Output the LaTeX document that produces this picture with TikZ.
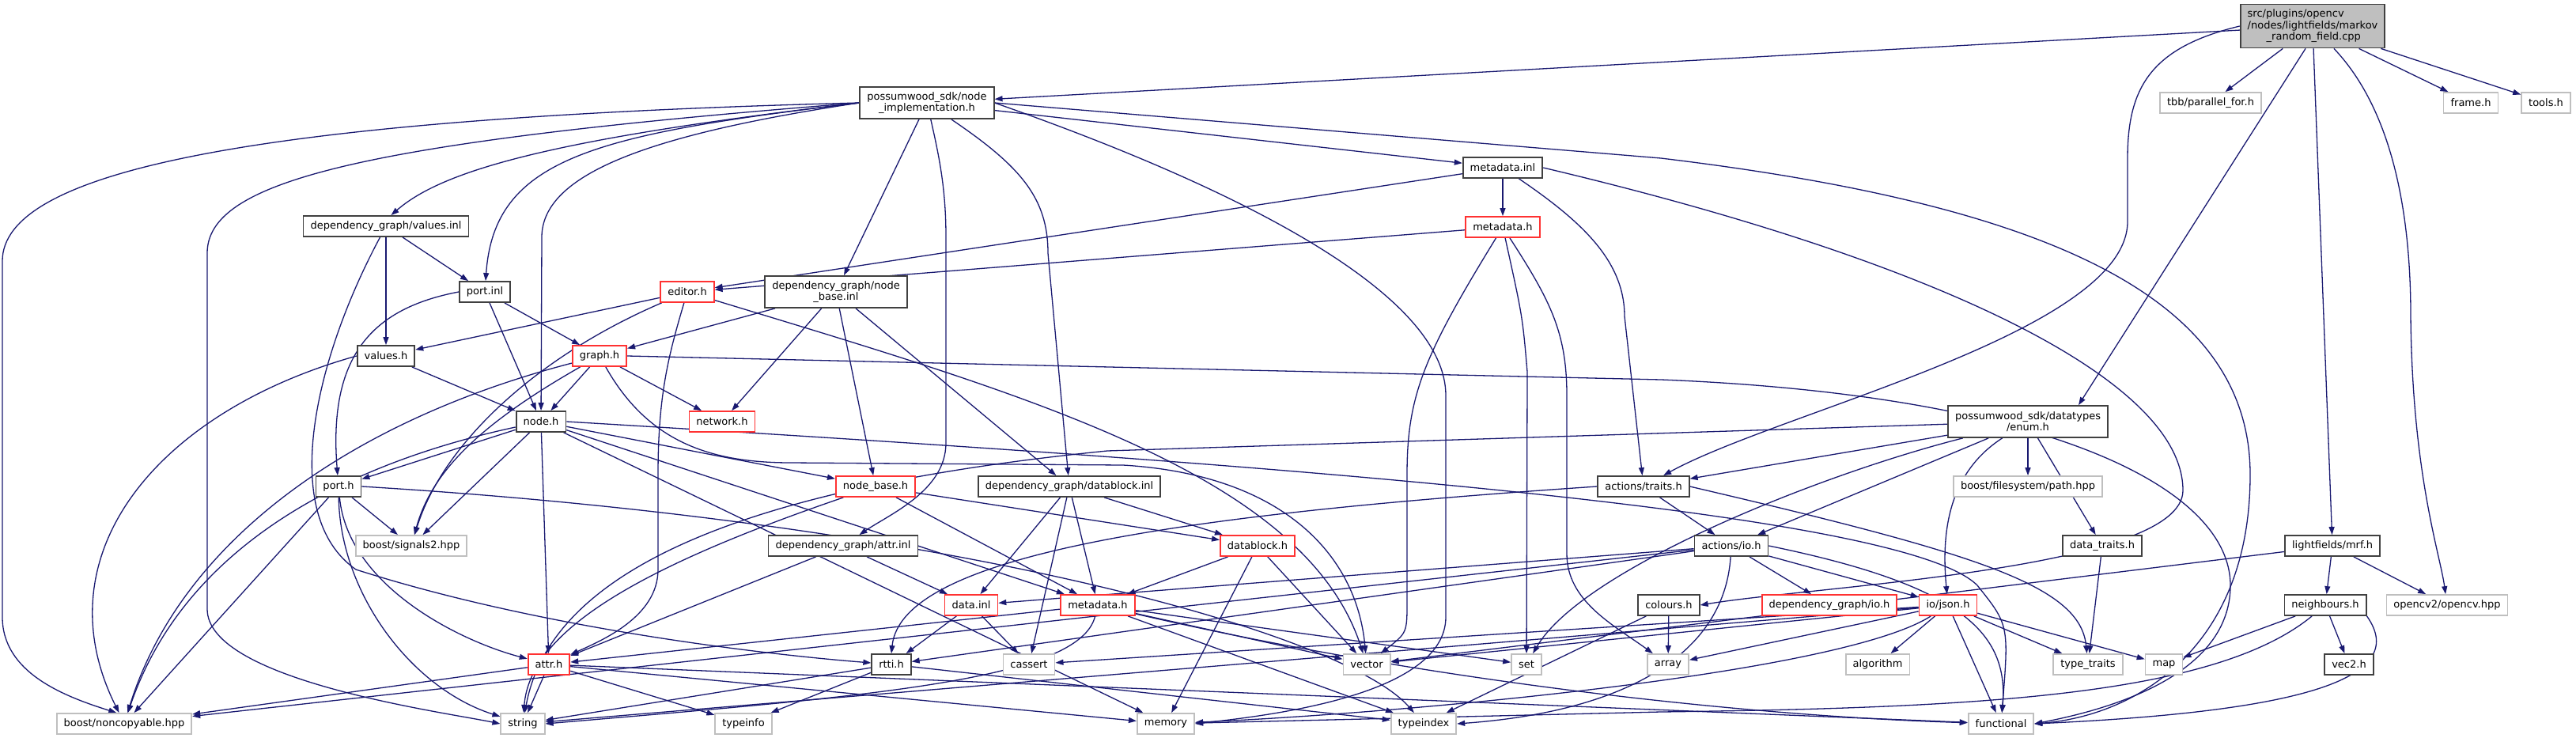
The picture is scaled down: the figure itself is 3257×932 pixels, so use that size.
\documentclass[tikz,border=0pt]{standalone}
\usepackage{fontspec}
\setmainfont{DejaVu Sans}
\usepackage{xcolor}
\usetikzlibrary{arrows.meta,backgrounds}
\definecolor{edgeblue}{RGB}{25,25,112}
\definecolor{boxedge}{RGB}{64,64,64}
\definecolor{extgray}{RGB}{191,191,191}
\definecolor{truncred}{RGB}{255,50,50}
\definecolor{rootgray}{RGB}{191,191,191}

\tikzset{
  box/.style={draw=boxedge, line width=1.8pt, fill=white, inner xsep=9pt, inner ysep=4pt,
    minimum height=26pt, align=center, font=\fontsize{13}{14.5}\selectfont},
  redbox/.style={box, draw=truncred},
  graybox/.style={box, draw=extgray},
  rootbox/.style={box, fill=rootgray, align=left, minimum height=55pt},
  dep/.style={draw=edgeblue, line width=1.3pt, -{Triangle[length=10pt,width=7pt]}},
}

\begin{document}
\begin{tikzpicture}[x=1pt,y=-1pt]
  \useasboundingbox (0,0) rectangle (3257,932);
  % Top rows
  \node[rootbox] (root) at (2924,33) {src/plugins/opencv\\/nodes/lightfields/markov\\\hspace*{24pt}\_random\_field.cpp};
  \node[box, minimum height=40pt] (nimpl) at (1172,130) {possumwood\_sdk/node\\\_implementation.h};
  \node[graybox] (tbb) at (2795,130) {tbb/parallel\_for.h};
  \node[graybox] (frame) at (3124,130) {frame.h};
  \node[graybox] (tools) at (3219,130) {tools.h};
  \node[box] (mdinl) at (1900,212) {metadata.inl};
  \node[box] (valinl) at (488,286) {dependency\_graph/values.inl};
  \node[redbox] (mdh) at (1900,287) {metadata.h};
  \node[box] (portinl) at (613,369) {port.inl};
  \node[redbox] (editor) at (869,369) {editor.h};
  \node[box, minimum height=40pt] (nbinl) at (1057,369) {dependency\_graph/node\\\_base.inl};
  \node[box] (valh) at (488,450) {values.h};
  \node[redbox] (graph) at (758,450) {graph.h};
  % Middle rows
  \node[box] (nodeh) at (684,533) {node.h};
  \node[redbox] (network) at (913,533) {network.h};
  \node[box, minimum height=40pt] (enumh) at (2564,533) {possumwood\_sdk/datatypes\\/enum.h};
  \node[box] (porth) at (428,615) {port.h};
  \node[redbox] (nbh) at (1107,615) {node\_base.h};
  \node[box] (dbinl) at (1352,615) {dependency\_graph/datablock.inl};
  \node[box] (traits) at (2078,615) {actions/traits.h};
  \node[graybox] (fspath) at (2564,615) {boost/filesystem/path.hpp};
  \node[graybox] (sig) at (520,690) {boost/signals2.hpp};
  \node[box] (attrinl) at (1066,690) {dependency\_graph/attr.inl};
  \node[redbox] (dbh) at (1590,690) {datablock.h};
  \node[box] (actio) at (2189,690) {actions/io.h};
  \node[box] (dtraits) at (2658,690) {data\_traits.h};
  \node[box] (mrf) at (2949,690) {lightfields/mrf.h};
  \node[redbox] (datainl) at (1228,765) {data.inl};
  \node[redbox] (dmdh) at (1388,765) {metadata.h};
  \node[box] (colours) at (2110,765) {colours.h};
  \node[redbox] (dgio) at (2313,765) {dependency\_graph/io.h};
  \node[redbox] (json) at (2463,765) {io/json.h};
  \node[box] (neigh) at (2940,765) {neighbours.h};
  \node[graybox] (cv) at (3094,765) {opencv2/opencv.hpp};
  % Bottom rows
  \node[redbox] (attrh) at (694,840) {attr.h};
  \node[box] (rtti) at (1127,840) {rtti.h};
  \node[graybox] (cassert) at (1301,840) {cassert};
  \node[graybox] (vector) at (1728,840) {vector};
  \node[graybox] (stdset) at (1930,840) {set};
  \node[graybox] (array) at (2109,840) {array};
  \node[graybox] (algo) at (2374,840) {algorithm};
  \node[graybox] (ttraits) at (2640,840) {type\_traits};
  \node[graybox] (stdmap) at (2736,840) {map};
  \node[box] (vec2) at (2970,840) {vec2.h};
  \node[graybox] (noncopy) at (157,915) {boost/noncopyable.hpp};
  \node[graybox] (stdstring) at (661,915) {string};
  \node[graybox] (typeinfo) at (940,915) {typeinfo};
  \node[graybox] (memory) at (1474,915) {memory};
  \node[graybox] (typeindex) at (1800,915) {typeindex};
  \node[graybox] (functional) at (2530,915) {functional};

  \begin{scope}[on background layer]
  % Straight includes
  \foreach \src/\dst in {root/nimpl, root/tbb, root/mrf, root/frame, root/tools,
      nimpl/nbinl, nimpl/mdinl, valinl/portinl, valinl/valh, portinl/graph, portinl/nodeh,
      mdinl/editor, mdinl/mdh, mdh/editor, editor/valh,
      nbinl/graph, nbinl/network, nbinl/nbh, nbinl/dbinl,
      valh/nodeh, graph/nodeh, graph/network,
      nodeh/porth, nodeh/sig, nodeh/attrh, nodeh/nbh, nodeh/dmdh, nodeh/memory,
      porth/sig, porth/noncopy, nbh/dbh, nbh/dmdh,
      dbinl/datainl, dbinl/cassert, dbinl/dmdh, dbinl/dbh, attrinl/attrh, attrinl/datainl,
      dbh/dmdh, dbh/memory, dbh/vector, datainl/rtti, datainl/cassert,
      dmdh/attrh, dmdh/vector, dmdh/stdset, dmdh/typeindex,
      attrh/noncopy, attrh/stdstring, attrh/typeinfo, attrh/memory, attrh/functional,
      rtti/stdstring, rtti/typeinfo, rtti/typeindex,
      enumh/traits, enumh/actio, enumh/fspath, enumh/dtraits,
      traits/actio, actio/dgio, actio/json, actio/datainl, actio/noncopy, actio/rtti,
      dtraits/ttraits, mrf/neigh, mrf/cv, mrf/vector, neigh/stdmap, neigh/vec2,
      colours/array, colours/typeindex,
      json/vector, json/cassert, json/array, json/algo, json/ttraits, json/stdmap,
      json/functional, json/stdstring}
    \draw[dep] (\src) -- (\dst);
  \draw[dep] ([xshift=-9pt]root.south) -- ([xshift=64pt]enumh.north);

  % Long curved includes
  \draw[dep] (nimpl.west) .. controls (300,150) and (3,220) .. (3,330) -- (3,780)
    .. controls (3,850) and (80,880) .. (noncopy.125);
  \draw[dep] (nimpl.west) .. controls (450,180) and (262,230) .. (262,320) -- (262,770)
    .. controls (262,860) and (560,900) .. (stdstring.west);
  \draw[dep] (nimpl.west) .. controls (700,175) and (560,215) .. (valinl.65);
  \draw[dep] (nimpl.west) .. controls (750,170) and (625,200) .. (portinl);
  \draw[dep] (nimpl.west) .. controls (820,170) and (685,220) .. (685,300) -- (nodeh);
  \draw[dep] (nimpl) .. controls (1188,200) and (1196,240) .. (1196,300) -- (1196,560)
    .. controls (1196,620) and (1125,650) .. (attrinl);
  \draw[dep] (nimpl) .. controls (1290,210) and (1325,250) .. (1325,320) -- (dbinl);
  \draw[dep] (nimpl.east) .. controls (1600,250) and (1828,380) .. (1828,500) -- (1828,780)
    .. controls (1828,880) and (1600,905) .. (memory.east);
  \draw[dep] (nimpl.east) -- (2100,200) .. controls (2600,260) and (2845,380) .. (2845,600)
    .. controls (2845,820) and (2700,905) .. (functional.east);
  \draw[dep] (root.west) .. controls (2720,60) and (2690,110) .. (2690,200) -- (2690,280)
    .. controls (2690,420) and (2250,520) .. (traits);
  \draw[dep] (root) .. controls (3035,150) and (3048,300) .. (3048,400)
    .. controls (3050,600) and (3085,700) .. (cv);
  \draw[dep] (mdinl) .. controls (2000,280) and (2054,330) .. (2054,400) -- (traits);
  \draw[dep] (mdinl.east) .. controls (2450,330) and (2760,480) .. (2760,620)
    .. controls (2760,720) and (2300,740) .. (colours.east);
  \draw[dep] (mdh) .. controls (1800,450) and (1779,500) .. (1779,600) -- (1779,760)
    .. controls (1779,800) .. (vector);
  \draw[dep] (mdh) .. controls (1925,400) .. (1931,470) -- (stdset);
  \draw[dep] (mdh) .. controls (1960,380) and (1981,420) .. (1981,500) -- (1981,700)
    .. controls (1981,760) and (2040,790) .. (array);
  \draw[dep] (valinl) .. controls (400,450) and (350,650) .. (450,720)
    .. controls (700,800) and (1000,830) .. (rtti);
  \draw[dep] (valh.west) .. controls (200,520) and (50,700) .. (noncopy.115);
  \draw[dep] (portinl.west) .. controls (470,390) and (415,450) .. (porth);
  \draw[dep] (editor) .. controls (680,450) and (560,560) .. (sig);
  \draw[dep] (editor) .. controls (845,450) and (832,500) .. (832,600) -- (832,720)
    .. controls (832,780) and (760,810) .. (attrh);
  \draw[dep] (editor) .. controls (1300,500) and (1650,600) .. (vector);
  \draw[dep] (graph) .. controls (450,530) and (230,680) .. (noncopy);
  \draw[dep] (graph) .. controls (600,540) and (545,600) .. (sig);
  \draw[dep] (graph) .. controls (820,560) and (900,585) .. (1000,585) -- (1420,588)
    .. controls (1620,600) and (1715,700) .. (vector);
  \draw[dep] (graph.east) -- (2100,480) .. controls (2600,500) and (2820,620) .. (2820,740)
    .. controls (2820,860) and (2650,900) .. (functional.east);
  \draw[dep] (nodeh) .. controls (420,590) and (230,700) .. (noncopy);
  \draw[dep] (nodeh.east) .. controls (1500,580) and (2400,640) .. (2500,740)
    .. controls (2540,790) .. (functional);
  \draw[dep] (porth) .. controls (430,750) and (520,870) .. (stdstring);
  \draw[dep] (porth) .. controls (440,740) and (580,810) .. (attrh);
  \draw[dep] (porth.east) .. controls (1200,660) and (1700,800) .. (typeindex);
  \draw[dep] (nbh) .. controls (800,720) and (670,800) .. (stdstring);
  \draw[dep] (dmdh) .. controls (1365,860) and (1100,880) .. (stdstring.east);
  \draw[dep] (dmdh) .. controls (1800,860) and (2200,905) .. (functional);
  \draw[dep] (enumh) -- (1400,570) .. controls (1000,610) and (700,700) .. (stdstring);
  \draw[dep] (enumh) .. controls (2300,600) and (2000,720) .. (stdset);
  \draw[dep] (enumh) .. controls (2460,600) and (2455,680) .. (json);
  \draw[dep] (traits.west) .. controls (1500,650) and (1140,700) .. (rtti.north);
  \draw[dep] (traits.east) .. controls (2500,700) and (2630,740) .. (ttraits);
  \draw[dep] (actio.east) .. controls (2480,740) and (2540,800) .. (functional);
  \draw[dep] (actio) .. controls (2180,830) and (2050,900) .. (typeindex.east);
  \draw[dep] (json) .. controls (2330,850) and (1800,900) .. (memory);
  \draw[dep] (neigh) .. controls (2800,880) and (2500,895) .. (2100,900) -- (memory);
  \draw[dep] (neigh.south east) .. controls (3050,860) and (2900,900) .. (functional.east);
  \end{scope}
\end{tikzpicture}
\end{document}
